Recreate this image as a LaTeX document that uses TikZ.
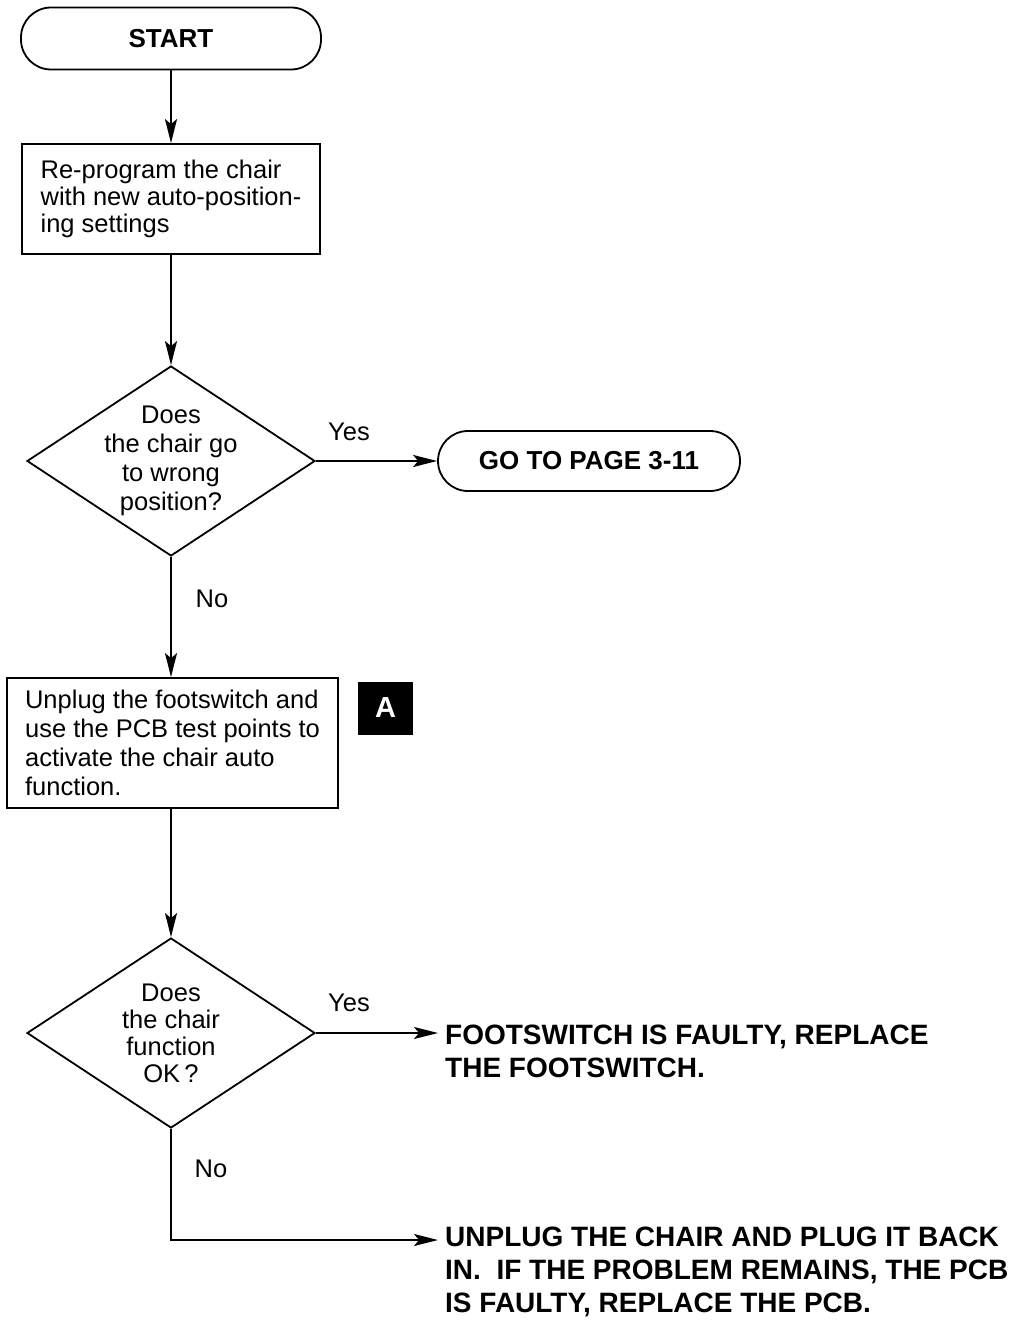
\documentclass[tikz,border=0pt]{standalone}
\usepackage{fontspec}
\setmainfont{Liberation Sans}
\usetikzlibrary{arrows.meta,shapes.geometric,positioning}

\begin{document}
\begin{tikzpicture}[x=1pt, y=-1pt,
  term/.style={rectangle, draw, rounded corners=30pt, line width=1.8pt,
               minimum width=300pt, minimum height=62pt,
               font=\bfseries\fontsize{26}{28}\selectfont},
  stepbox/.style={rectangle, draw, line width=1.8pt, align=left,
                  font=\fontsize{25.5}{27}\selectfont},
  decision/.style={diamond, draw, line width=1.8pt, align=center,
                   aspect=1.5, inner sep=-8pt,
                   minimum width=288pt, minimum height=190pt},
  result/.style={anchor=north west, inner sep=0pt, align=left,
                 font=\bfseries\fontsize{28}{33}\selectfont},
  lbl/.style={font=\fontsize{25.5}{27}\selectfont},
  arrow/.style={-{Stealth[length=24pt, width=12pt, inset=5pt]}, line width=1.8pt},
  outarrow/.style={arrow, shorten >=7pt}
]
\useasboundingbox (0,0) rectangle (1013,1321);

\node[term] (start) at (171, 38.5) {START};

\node[stepbox, minimum width=298pt, minimum height=110pt] (prog) at (171, 199)
  {Re-program the chair\\with new auto-position-\\ing settings};

\node[decision, font=\fontsize{25.5}{29}\selectfont] (wrong) at (171, 461)
  {Does\\the chair go\\to wrong\\position?};

\node[term, minimum width=302pt, minimum height=60pt] (page) at (589, 461) {GO TO PAGE 3-11};

\node[stepbox, minimum width=331pt, minimum height=130pt,
      font=\fontsize{25.5}{29}\selectfont] (unfoot) at (172.5, 743)
  {Unplug the footswitch and\\use the PCB test points to\\activate the chair auto\\function.};

\node[fill=black, text=white, minimum width=55pt, minimum height=53pt,
      font=\bfseries\fontsize{29}{30}\selectfont] (marka) at (385.5, 708) {A};

\node[decision, font=\fontsize{25.5}{27}\selectfont] (works) at (171, 1033)
  {Does\\the chair\\function\\OK\,?};

\node[result] (foot) at (445, 1025) {FOOTSWITCH IS FAULTY, REPLACE\\THE FOOTSWITCH.};
\node[result] (replug) at (445, 1227)
  {UNPLUG THE CHAIR AND PLUG IT BACK\\IN.\ \ IF THE PROBLEM REMAINS, THE PCB\\IS FAULTY, REPLACE THE PCB.};

% labels
\node[lbl] (yes1) at (349, 432) {Yes};
\node[lbl] (no1) at (212, 599) {No};
\node[lbl] (yes2) at (349, 1003) {Yes};
\node[lbl] (no2) at (211, 1169) {No};

\draw[arrow] (start) -- (prog);
\draw[arrow] (prog) -- (wrong);
\draw[arrow] (wrong.east) -- (page.west);
\draw[arrow] (wrong.south) -- (wrong.south |- unfoot.north);
\draw[arrow] (unfoot.south -| works.north) -- (works.north);
\draw[outarrow] (works.east) -- (works.east -| foot.west);
\draw[outarrow] (works.south) |- ([yshift=-13pt]replug.north west);

\end{tikzpicture}
\end{document}
